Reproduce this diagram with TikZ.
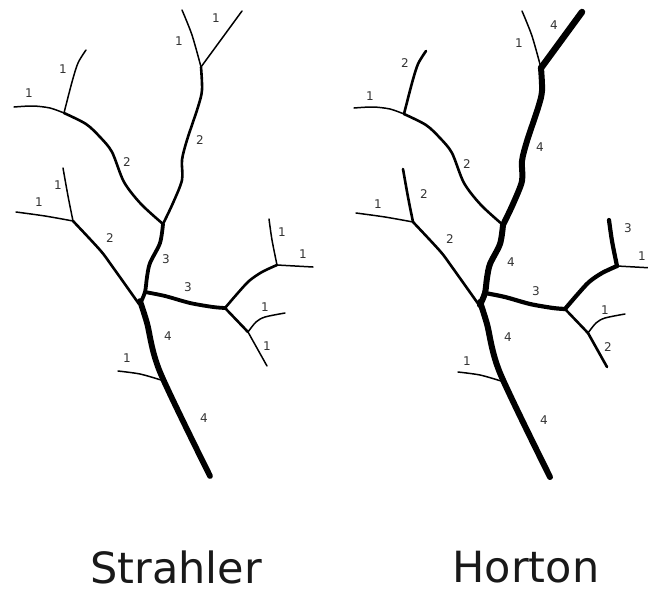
\documentclass[tikz,border=0pt]{standalone}
\usepackage{fontspec}
\setmainfont{DejaVu Sans}
\tikzset{
  wone/.style={line width=1.5pt},
  wtwo/.style={line width=2.6pt},
  wthree/.style={line width=3.8pt},
  wfour/.style={line width=5.8pt},
  seg/.style={draw=black, line cap=round, line join=round},
  lbl/.style={font=\fontsize{12}{14}\selectfont, text=black!80, inner sep=0pt},
  title/.style={font=\fontsize{43}{50}\selectfont, text=black!90, inner sep=0pt, anchor=base},
}
\newcommand\rivertree{%
  \coordinate (F1) at (201,67);
  \coordinate (F2) at (163,224);
  \coordinate (F3) at (64,113);
  \coordinate (F4) at (73,221);
  \coordinate (J) at (145,292);
  \coordinate (F5) at (225,308);
  \coordinate (F6) at (277,265);
  \coordinate (F7) at (248,332);
  \coordinate (M) at (210,476);
  % top tributaries
  \draw[seg,segAone] plot[smooth] coordinates {(182,10) (192,35) (F1)};
  \draw[seg,segAtwo] (242,11) -- (F1);
  \draw[seg,segTop] plot[smooth] coordinates {(F1) (202,90) (198,107) (187,140) (182,160) (182,180) (173,203) (F2)};
  % upper left
  \draw[seg,segBone] plot[smooth] coordinates {(14,107) (33,106) (50,108) (F3)};
  \draw[seg,segBtwo] plot[smooth] coordinates {(86,50) (78,63) (72,82) (F3)};
  \draw[seg,segUL] plot[smooth] coordinates {(F3) (86,124) (100,137) (112,152) (124,182) (141,204) (F2)};
  % lower left
  \draw[seg,segCone] plot[smooth] coordinates {(16,212) (45,216) (F4)};
  \draw[seg,segCtwo] plot[smooth] coordinates {(63,168) (68,196) (F4)};
  \draw[seg,segLL] plot[smooth] coordinates {(F4) (100,250) (112,266) (139,304)};
  % stem between F2 and J
  \draw[seg,segMid] plot[smooth] coordinates {(F2) (160,243) (150,263) (147,277) (J) (140,304)};
  % right branch
  \draw[seg,segRight] plot[smooth] coordinates {(J) (165,296) (190,303) (213,307) (F5)};
  \draw[seg,segRU] plot[smooth] coordinates {(F5) (237,294) (249,281) (262,272) (F6)};
  \draw[seg,segDone] plot[smooth] coordinates {(269,219) (272,240) (F6)};
  \draw[seg,segDtwo] (F6) -- (313,267);
  \draw[seg,segRL] (F5) -- (F7);
  \draw[seg,segEone] plot[smooth] coordinates {(F7) (256,322) (265,317) (285,313)};
  \draw[seg,segEtwo] (F7) -- (267,366);
  % main stem
  \draw[seg,segMain] plot[smooth] coordinates {(140,301) (147,323) (160,372) (M)};
  \draw[seg,segG] plot[smooth] coordinates {(118,371) (140,374) (161,380)};
}
\begin{document}
\begin{tikzpicture}[x=1pt,y=-1pt]
\useasboundingbox (0,0) rectangle (648,592);
% Strahler
\begin{scope}[
  segAone/.style={wone}, segAtwo/.style={wone}, segTop/.style={wtwo},
  segBone/.style={wone}, segBtwo/.style={wone}, segUL/.style={wtwo},
  segCone/.style={wone}, segCtwo/.style={wone}, segLL/.style={wtwo},
  segMid/.style={wthree}, segRight/.style={wthree}, segRU/.style={wtwo},
  segDone/.style={wone}, segDtwo/.style={wone}, segRL/.style={wtwo},
  segEone/.style={wone}, segEtwo/.style={wone}, segMain/.style={wfour},
  segG/.style={wone}]
\rivertree
\end{scope}
\begin{scope}[xshift=340pt,yshift=-1pt,
  segAone/.style={wone}, segAtwo/.style={line width=6.5pt}, segTop/.style={line width=6pt},
  segBone/.style={wone}, segBtwo/.style={wtwo}, segUL/.style={wtwo},
  segCone/.style={wone}, segCtwo/.style={wtwo}, segLL/.style={wtwo},
  segMid/.style={line width=6pt}, segRight/.style={line width=4.2pt}, segRU/.style={line width=4.2pt},
  segDone/.style={line width=4.2pt}, segDtwo/.style={wone}, segRL/.style={wtwo},
  segEone/.style={wone}, segEtwo/.style={wtwo}, segMain/.style={line width=6pt},
  segG/.style={wone}]
\rivertree
\end{scope}
% Strahler labels
\node[lbl] (s1) at (179,41) {1};
\node[lbl] (s2) at (216,18) {1};
\node[lbl] (s3) at (200,140) {2};
\node[lbl] (s4) at (29,93) {1};
\node[lbl] (s5) at (63,69) {1};
\node[lbl] (s6) at (127,162) {2};
\node[lbl] (s7) at (39,202) {1};
\node[lbl] (s8) at (58,185) {1};
\node[lbl] (s9) at (110,238) {2};
\node[lbl] (s10) at (166,259) {3};
\node[lbl] (s11) at (188,287) {3};
\node[lbl] (s12) at (282,232) {1};
\node[lbl] (s13) at (303,254) {1};
\node[lbl] (s14) at (265,307) {1};
\node[lbl] (s15) at (267,346) {1};
\node[lbl] (s16) at (127,358) {1};
\node[lbl] (s17) at (168,336) {4};
\node[lbl] (s18) at (204,418) {4};
% Horton labels
\node[lbl] (h1) at (519,43) {1};
\node[lbl] (h2) at (554,25) {4};
\node[lbl] (h3) at (540,147) {4};
\node[lbl] (h4) at (370,96) {1};
\node[lbl] (h5) at (405,63) {2};
\node[lbl] (h6) at (467,164) {2};
\node[lbl] (h7) at (378,204) {1};
\node[lbl] (h8) at (424,194) {2};
\node[lbl] (h9) at (450,239) {2};
\node[lbl] (h10) at (511,262) {4};
\node[lbl] (h11) at (536,291) {3};
\node[lbl] (h12) at (628,228) {3};
\node[lbl] (h13) at (642,256) {1};
\node[lbl] (h14) at (605,310) {1};
\node[lbl] (h15) at (608,347) {2};
\node[lbl] (h16) at (467,361) {1};
\node[lbl] (h17) at (508,337) {4};
\node[lbl] (h18) at (544,420) {4};
% titles
\node[title] (ts) at (176,583) {Strahler};
\node[title] (th) at (526,582) {Horton};
\end{tikzpicture}
\end{document}
